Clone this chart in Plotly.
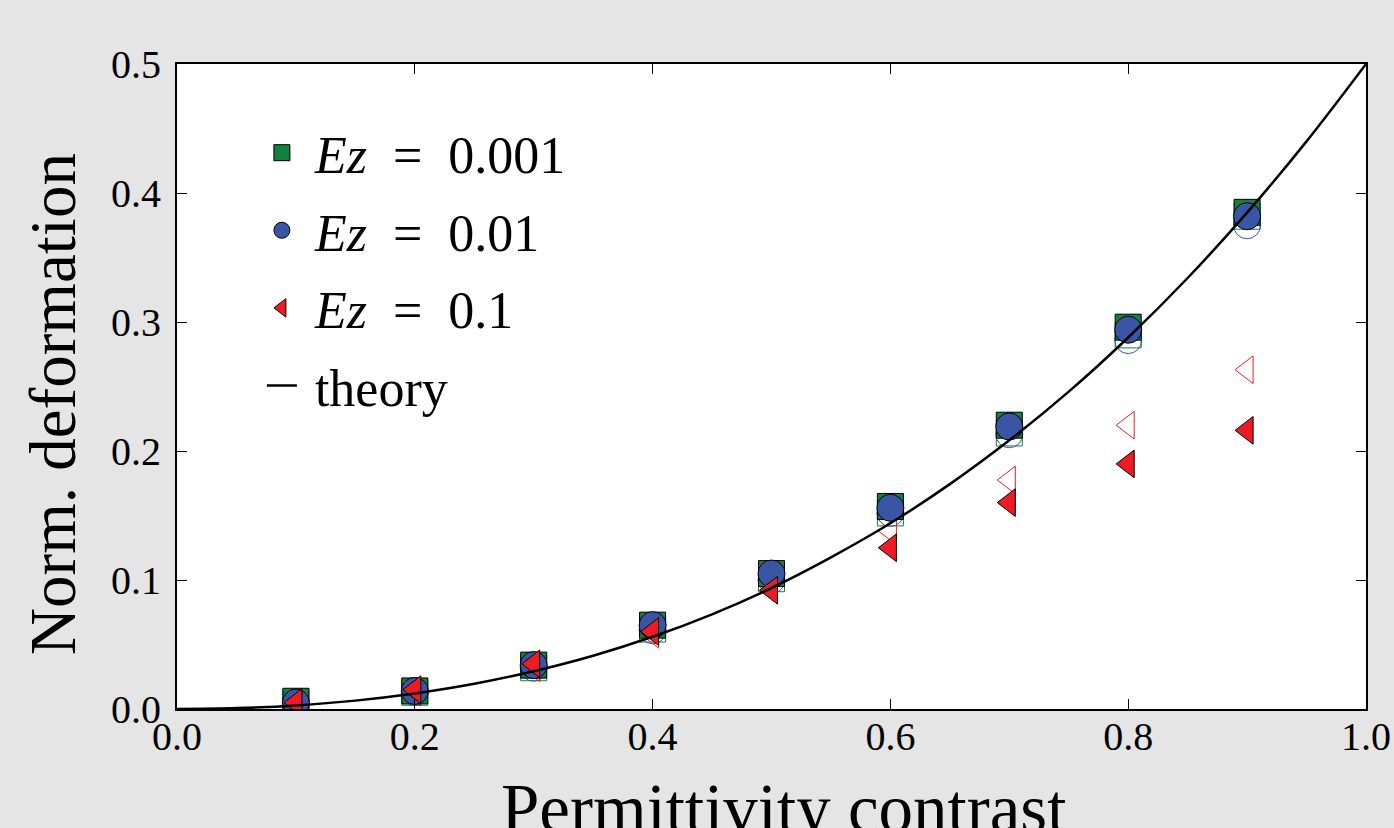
import plotly.graph_objects as go

# ---- data ----
contrast = [0.1, 0.2, 0.3, 0.4, 0.5, 0.6, 0.7, 0.8, 0.9]

# filled markers
ez_0001 = [0.006, 0.014, 0.034, 0.065, 0.105, 0.157, 0.220, 0.296, 0.385]
ez_001 = [0.005, 0.014, 0.034, 0.065, 0.105, 0.156, 0.219, 0.294, 0.382]
ez_01 = [0.005, 0.015, 0.035, 0.060, 0.092, 0.125, 0.160, 0.190, 0.216]

# open (hollow) markers
ez_0001_open = [0.005, 0.013, 0.032, 0.062, 0.101, 0.152, 0.214, 0.290, 0.382]
ez_001_open = [0.005, 0.013, 0.032, 0.061, 0.100, 0.152, 0.213, 0.286, 0.375]
ez_01_open = [0.004, 0.013, 0.032, 0.058, 0.096, 0.138, 0.1775, 0.220, 0.263]

# theory curve
theory_x = [0.0, 0.05, 0.1, 0.15, 0.2, 0.25, 0.3, 0.35, 0.4, 0.45, 0.5,
            0.55, 0.6, 0.65, 0.7, 0.75, 0.8, 0.85, 0.9, 0.95, 1.0]
theory_y = [0.0, 0.0007, 0.0028, 0.0065, 0.012, 0.0195, 0.0293, 0.0413, 0.056, 0.0734, 0.0938,
            0.1176, 0.144, 0.1743, 0.2083, 0.246, 0.288, 0.3341, 0.3848, 0.44, 0.5]

x_ticks = [0.0, 0.2, 0.4, 0.6, 0.8, 1.0]
y_ticks = [0.0, 0.1, 0.2, 0.3, 0.4, 0.5]

legend_names = ["&nbsp;<i>Ez</i>&nbsp;&nbsp;=&nbsp;&nbsp;0.001",
                "&nbsp;<i>Ez</i>&nbsp;&nbsp;=&nbsp;&nbsp;0.01",
                "&nbsp;<i>Ez</i>&nbsp;&nbsp;=&nbsp;&nbsp;0.1",
                "&nbsp;theory"]

GREEN = "#138040"
BLUE = "#3b55a5"
RED = "#ed1c24"
BG = "#e4e5e4"
FONT = "Liberation Serif"

fig = go.Figure()

# hollow markers underneath
fig.add_trace(go.Scatter(x=contrast, y=ez_0001_open, mode="markers", showlegend=False,
                         marker=dict(symbol="square-open", size=26, color=GREEN, line=dict(width=1, color=GREEN))))
fig.add_trace(go.Scatter(x=contrast, y=ez_001_open, mode="markers", showlegend=False,
                         marker=dict(symbol="circle-open", size=27, color=BLUE, line=dict(width=1, color=BLUE))))
fig.add_trace(go.Scatter(x=contrast, y=ez_01_open, mode="markers", showlegend=False,
                         marker=dict(symbol="triangle-left-open", size=24, color=RED, line=dict(width=1, color=RED))))

# filled markers
fig.add_trace(go.Scatter(x=contrast, y=ez_0001, mode="markers", name=legend_names[0], legendgroup="a",
                         marker=dict(symbol="square", size=26, color=GREEN, line=dict(width=1, color="black"))))
fig.add_trace(go.Scatter(x=contrast, y=ez_001, mode="markers", name=legend_names[1], legendgroup="b",
                         marker=dict(symbol="circle", size=27, color=BLUE, line=dict(width=1, color="black"))))
fig.add_trace(go.Scatter(x=contrast, y=ez_01, mode="markers", name=legend_names[2], legendgroup="c",
                         marker=dict(symbol="triangle-left", size=24, color=RED, line=dict(width=1, color="black"))))

# theory
fig.add_trace(go.Scatter(x=theory_x, y=theory_y, mode="lines", name=legend_names[3], legendgroup="d",
                         line=dict(color="black", width=2.5, shape="spline")))

axis_common = dict(
    showline=True, linecolor="black", linewidth=2, mirror="ticks",
    ticks="inside", ticklen=10, tickwidth=1, tickcolor="black",
    showgrid=False, zeroline=False, automargin=False,
    tickfont=dict(family=FONT, size=40, color="black"),
)

fig.update_xaxes(range=[0, 1], tickvals=x_ticks, ticktext=[f"{v:.1f}" for v in x_ticks],
                 ticklabelstandoff=-9, **axis_common)
fig.update_yaxes(range=[0, 0.5], tickvals=y_ticks, ticktext=[f"{v:.1f}" for v in y_ticks],
                 ticklabelstandoff=6, **axis_common)

fig.add_annotation(text="Permittivity contrast", xref="paper", yref="paper", x=0.51, y=0,
                   xanchor="center", yanchor="top", yshift=-60, showarrow=False,
                   font=dict(family=FONT, size=69, color="black"))
fig.add_annotation(text="Norm. deformation", xref="paper", yref="paper", x=0, y=0.473,
                   xanchor="center", yanchor="middle", xshift=-124, textangle=-90, showarrow=False,
                   font=dict(family=FONT, size=65, color="black"))

fig.update_layout(
    width=1394, height=828,
    margin=dict(l=177, r=28, t=64, b=119),
    paper_bgcolor=BG, plot_bgcolor="white",
    showlegend=True,
    legend=dict(x=0.0714, y=0.925, xanchor="left", yanchor="top", bgcolor="rgba(0,0,0,0)",
                borderwidth=0, traceorder="grouped", tracegroupgap=7,
                font=dict(family=FONT, size=52, color="black")),
)

fig.write_html("out.html")
